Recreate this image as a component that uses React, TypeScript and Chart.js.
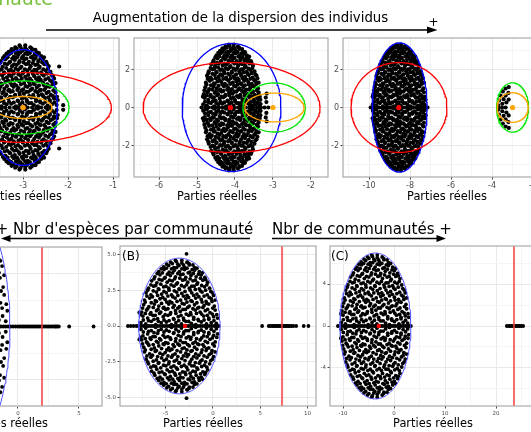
import React, { useEffect, useRef } from "react";
import { Chart, registerables } from "chart.js";

Chart.register(...registerables);

type Pt = [number, number];
const FONT = "DejaVu Sans";

// Normalised eigenvalue cloud (upper half; the spectrum is symmetric about the real axis)
const cloudA: Pt[] = [
  [-0.97,0.05],[-0.85,0.03],[-0.71,0.07],[-0.6,0.02],[-0.46,0.05],[-0.33,0.06],[-0.2,0.02],[-0.09,0.05],[0.05,0.03],[0.16,0.07],[0.3,0.04],[0.41,0.02],[0.55,0.06],[0.68,0.03],[0.8,0.05],[0.93,0.04],
  [-0.92,0.15],[-0.8,0.12],[-0.67,0.16],[-0.55,0.11],[-0.41,0.14],[-0.29,0.16],[-0.15,0.11],[-0.03,0.14],[0.1,0.12],[0.23,0.16],[0.36,0.13],[0.47,0.1],[0.61,0.15],[0.74,0.12],[0.86,0.14],[0.96,0.12],
  [-0.95,0.21],[-0.83,0.24],[-0.72,0.2],[-0.58,0.23],[-0.47,0.21],[-0.35,0.25],[-0.22,0.2],[-0.1,0.23],[0.02,0.22],[0.15,0.25],[0.28,0.2],[0.4,0.24],[0.52,0.21],[0.65,0.23],[0.77,0.2],[0.9,0.24],
  [-0.9,0.32],[-0.77,0.29],[-0.63,0.33],[-0.52,0.3],[-0.39,0.28],[-0.27,0.33],[-0.13,0.31],[0,0.29],[0.12,0.33],[0.25,0.3],[0.38,0.32],[0.49,0.28],[0.62,0.31],[0.74,0.33],[0.88,0.3],
  [-0.88,0.39],[-0.75,0.42],[-0.61,0.38],[-0.49,0.41],[-0.36,0.4],[-0.24,0.37],[-0.11,0.42],[0.03,0.39],[0.16,0.41],[0.29,0.38],[0.41,0.42],[0.55,0.4],[0.67,0.37],[0.8,0.41],[0.9,0.39],
  [-0.84,0.5],[-0.72,0.47],[-0.58,0.51],[-0.45,0.48],[-0.33,0.5],[-0.2,0.47],[-0.07,0.51],[0.06,0.49],[0.19,0.46],[0.31,0.5],[0.44,0.48],[0.57,0.51],[0.7,0.47],[0.83,0.5],
  [-0.78,0.57],[-0.65,0.6],[-0.53,0.56],[-0.4,0.59],[-0.27,0.57],[-0.14,0.6],[-0.01,0.56],[0.12,0.59],[0.25,0.57],[0.37,0.6],[0.5,0.56],[0.63,0.59],[0.76,0.57],
  [-0.7,0.68],[-0.57,0.65],[-0.44,0.69],[-0.31,0.66],[-0.18,0.68],[-0.05,0.65],[0.08,0.69],[0.21,0.66],[0.34,0.68],[0.46,0.65],[0.59,0.69],[0.71,0.66],
  [-0.62,0.74],[-0.49,0.77],[-0.36,0.73],[-0.23,0.76],[-0.1,0.74],[0.03,0.77],[0.16,0.73],[0.29,0.76],[0.42,0.74],[0.55,0.77],[0.64,0.73],
  [-0.52,0.82],[-0.39,0.85],[-0.26,0.81],[-0.13,0.84],[0,0.82],[0.13,0.85],[0.26,0.81],[0.38,0.84],[0.5,0.82],
  [-0.4,0.89],[-0.27,0.91],[-0.14,0.88],[-0.01,0.91],[0.12,0.89],[0.25,0.92],[0.38,0.88],
  [-0.22,0.96],[-0.08,0.97],[0.06,0.95],[0.2,0.96],
];

const cloudB: Pt[] = [
  [-0.91,0.09],[-0.78,0.08],[-0.64,0.1],[-0.53,0.07],[-0.39,0.09],[-0.26,0.08],[-0.14,0.1],[-0.02,0.08],[0.11,0.09],[0.23,0.07],[0.36,0.1],[0.48,0.08],[0.62,0.09],[0.74,0.1],[0.87,0.08],
  [-0.98,0.17],[-0.86,0.19],[-0.74,0.18],[-0.61,0.16],[-0.5,0.19],[-0.36,0.17],[-0.23,0.18],[-0.09,0.19],[0.04,0.16],[0.17,0.18],[0.29,0.17],[0.43,0.19],[0.56,0.18],[0.7,0.16],[0.83,0.18],[0.94,0.17],
  [-0.93,0.27],[-0.8,0.26],[-0.66,0.28],[-0.54,0.25],[-0.41,0.27],[-0.29,0.26],[-0.16,0.28],[-0.04,0.27],[0.09,0.25],[0.21,0.28],[0.34,0.26],[0.46,0.27],[0.59,0.28],[0.71,0.25],[0.84,0.27],
  [-0.86,0.36],[-0.71,0.35],[-0.58,0.37],[-0.45,0.34],[-0.32,0.36],[-0.19,0.35],[-0.06,0.37],[0.07,0.34],[0.19,0.36],[0.32,0.37],[0.44,0.35],[0.57,0.36],[0.69,0.34],[0.82,0.37],
  [-0.82,0.45],[-0.68,0.44],[-0.55,0.46],[-0.42,0.43],[-0.29,0.45],[-0.17,0.44],[-0.04,0.46],[0.1,0.45],[0.23,0.43],[0.36,0.46],[0.49,0.44],[0.62,0.45],[0.75,0.43],[0.86,0.46],
  [-0.8,0.54],[-0.66,0.53],[-0.52,0.55],[-0.39,0.52],[-0.26,0.54],[-0.13,0.53],[0,0.55],[0.14,0.52],[0.27,0.54],[0.4,0.55],[0.53,0.53],[0.66,0.54],[0.79,0.52],
  [-0.72,0.62],[-0.6,0.61],[-0.47,0.63],[-0.34,0.6],[-0.21,0.62],[-0.08,0.63],[0.05,0.61],[0.18,0.62],[0.31,0.6],[0.44,0.63],[0.56,0.61],[0.69,0.62],
  [-0.64,0.71],[-0.51,0.7],[-0.38,0.72],[-0.25,0.69],[-0.12,0.71],[0.01,0.72],[0.14,0.7],[0.27,0.71],[0.4,0.69],[0.53,0.72],[0.66,0.7],
  [-0.56,0.79],[-0.43,0.8],[-0.3,0.78],[-0.17,0.8],[-0.04,0.79],[0.09,0.78],[0.22,0.8],[0.35,0.79],[0.48,0.78],[0.58,0.8],
  [-0.46,0.86],[-0.33,0.87],[-0.2,0.86],[-0.07,0.88],[0.06,0.86],[0.19,0.87],[0.32,0.85],[0.44,0.87],
  [-0.32,0.93],[-0.18,0.94],[-0.04,0.93],[0.1,0.92],[0.24,0.94],[0.34,0.92],
  [-0.1,0.99],[0.06,0.99],
];

// small community (arc opening to the right), normalised
const smallArc: Pt[] = [
  [-0.17,0.98],[-0.42,0.91],[-0.64,0.77],[-0.82,0.57],[-0.94,0.34],[-1.0,0.1],
  [-0.2,0.7],[-0.42,0.57],[-0.58,0.4],[-0.68,0.18],
  [-0.18,0.38],[-0.36,0.24],
  [-1.0,0],[-0.7,0],[-0.42,0],
];

// ---------- Panel 1 (top, cut at left) ----------
const p1Cloud = [-3.0, 0.8, 3.3];          // centre, half-width, half-height
const p1Real = [-3.5, -3.4, -3.3, -3.2, -3.1, -3.0, -2.9, -2.8, -2.7, -2.6, -2.5, -2.4];
const p1Extra: Pt[] = [[-2.2, 2.16], [-2.11, 0.12]];
const p1Blue = [-3.0, 0.76, 3.05];          // cx, rx, ry
const p1Red = [-3.0, 1.96, 1.84];
const p1Green = [-3.0, 1.02, 1.4];
const p1Orange = [-3.0, 0.64, 0.58];
const p1Dots = [-3.0, -3.0];                // red centre, orange centre

// ---------- Panel 2 ----------
const p2Cloud = [-4.08, 0.78, 3.35];
const p2Small = [-3.02, 0.85, 0.75];        // right anchor, x scale, y scale
const p2Real = [-4.88, -4.78, -4.7, -4.6, -4.5, -4.42, -4.32, -4.22, -4.12, -4.02, -3.92, -3.82, -3.72, -3.62, -3.52, -3.42, -3.32, -3.22, -3.12];
const p2Blue = [-4.09, 1.3, 3.37];
const p2Red = [-4.09, 2.33, 2.37];
const p2Green = [-2.97, 0.82, 1.29];
const p2Orange = [-2.96, 0.78, 0.76];
const p2Dots = [-4.12, -3.0];

// ---------- Panel 3 ----------
const p3Cloud = [-8.52, 1.33, 3.35];
const p3Small = [-3.08, 0.62, 1.1];
const p3Real = [-9.92, -9.8, -9.65, -9.5, -9.35, -9.2, -9.05, -8.9, -8.75, -8.6, -8.45, -8.3, -8.15, -8.0, -7.85, -7.7, -7.55, -7.4, -7.25, -7.15];
const p3Blue = [-8.51, 1.34, 3.4];
const p3Red = [-8.54, 2.34, 2.37];
const p3Green = [-3.0, 0.78, 1.3];
const p3Orange = [-3.0, 0.76, 0.78];
const p3Dots = [-8.55, -3.0];

// ---------- Panel 4 (bottom, cut at left) ----------
const p4Cloud = [-5.0, 4.3, 12.4];
const p4Real = [-8.5, -7.5, -6.5, -5.5, -4.5, -3.5, -2.5, -2.0, -1.7, -1.4, -1.2, -1.0, -0.8, -0.6, -0.4, -0.2, 0, 0.15, 0.3, 0.45, 0.6, 0.75, 0.9, 1.05, 1.2, 1.35, 1.5, 1.65, 1.8, 1.95, 2.1, 2.25, 2.4, 2.55, 2.7, 2.85, 3.0, 3.1, 3.2, 3.35, 4.2, 6.2];
const p4Blue = [-5.0, 4.34, 12.8];
const p4Line = 1.97;

// ---------- Panel 5 (B) ----------
const p5Cloud = [-3.55, 4.2, 4.65];
const p5Extra: Pt[] = [[-2.8, 5.05], [-2.75, 4.45], [-7.8, 0.95]];
const p5Real = [-9.0, -8.7, -8.4, -8.1, -7.85, -7.6, -7.35, -7.1, -6.85, -6.6, -6.35, -6.1, -5.85, -5.6, -5.35, -5.1, -4.85, -4.6, -4.35, -4.1, -3.85, -3.6, -3.35, -3.1, -2.85, -2.6, -2.35, -2.1, -1.85, -1.6, -1.35, -1.1, -0.85, -0.6, -0.35, -0.1, 0.15, 0.4, 0.6];
const p5Right = [5.2, 5.9, 6.1, 6.3, 6.45, 6.6, 6.75, 6.9, 7.05, 7.2, 7.35, 7.5, 7.65, 7.8, 7.95, 8.1, 8.3, 8.5, 8.8, 9.6, 10.1];
const p5Blue = [-3.55, 4.3, 4.75];
const p5Dot = -2.96;
const p5Line = 7.3;

// ---------- Panel 6 (C) ----------
const p6Cloud = [-3.7, 6.85, 6.85];
const p6Real = [-11, -10.6, -10.2, -9.8, -9.4, -9.0, -8.6, -8.2, -7.8, -7.4, -7.0, -6.6, -6.2, -5.8, -5.4, -5.0, -4.6, -4.2, -3.8, -3.4, -3.0, -2.6, -2.2, -1.8, -1.4, -1.0, -0.6, -0.2, 0.2, 0.6, 1.0, 1.4, 1.8, 2.2, 2.6, 3.0, 3.3];
const p6Right = [22.1, 22.5, 22.8, 23.1, 23.4, 23.7, 24.0, 24.3, 24.6, 24.9, 25.3];
const p6Blue = [-3.65, 6.95, 6.95];
const p6Dot = -3.0;
const p6Line = 23.5;

// tick values
const topYMajor = [-2, 0, 2];
const topYMinor = [-3, -1, 1, 3];
const p1XMajor = [-5, -4, -3, -2, -1];
const p1XMinor = [-4.5, -3.5, -2.5, -1.5];
const p2XMajor = [-6, -5, -4, -3, -2];
const p2XMinor = [-6.5, -5.5, -4.5, -3.5, -2.5];
const p3XMajor = [-10, -8, -6, -4, -2];
const p3XMinor = [-11, -9, -7, -5, -3];
const p4XMajor = [-5, 0, 5];
const p4XMinor = [-7.5, -2.5, 2.5];
const p4YMajor = [-5, 0, 5];
const p4YMinor = [-7.5, -2.5, 2.5, 7.5];
const p5XMajor = [-5, 0, 5, 10];
const p5XMinor = [-7.5, -2.5, 2.5, 7.5];
const p5YMajor = [-5, -2.5, 0, 2.5, 5];
const p5YMinor = [-3.75, -1.25, 1.25, 3.75];
const p6XMajor = [-10, 0, 10, 20];
const p6XMinor = [-5, 5, 15, 25];
const p6YMajor = [-4, 0, 4];
const p6YMinor = [-6, -2, 2, 6];

// ---------- helpers ----------
const BLUE = "#0000ff", RED = "#ff0000", GREEN = "#00e600", ORANGE = "#ffa500";
const BLUE2 = "#5050ff", RED2 = "#ff3c3c";

type XY = { x: number; y: number };
function cloud(templates: Pt[][], c: number[]): XY[] {
  const [cx, ax, ay] = c;
  const out: XY[] = [];
  for (const t of templates) for (const [u, v] of t) {
    out.push({ x: cx + u * ax, y: v * ay });
    out.push({ x: cx + u * ax, y: -v * ay });
  }
  return out;
}
function arcCluster(c: number[]): XY[] {
  const [ax, sx, sy] = c;
  const out: XY[] = [];
  for (const [u, v] of smallArc) {
    out.push({ x: ax + u * sx, y: v * sy });
    if (v > 0) out.push({ x: ax + u * sx, y: -v * sy });
  }
  return out;
}
function onAxis(xs: number[]): XY[] { return xs.map((x) => ({ x, y: 0 })); }
function mirrored(ps: Pt[]): XY[] {
  const out: XY[] = [];
  for (const [x, y] of ps) { out.push({ x, y }); out.push({ x, y: -y }); }
  return out;
}
function ellipse(e: number[]): XY[] {
  const [cx, rx, ry] = e;
  const out: XY[] = [];
  for (let i = 0; i <= 160; i++) {
    const t = (i / 160) * Math.PI * 2;
    out.push({ x: cx + rx * Math.cos(t), y: ry * Math.sin(t) });
  }
  return out;
}
function vline(x: number): XY[] { return [{ x, y: -100 }, { x, y: 100 }]; }

const dots = (data: XY[], color: string, r: number) => ({
  data, showLine: false, pointRadius: r, pointHoverRadius: r,
  pointBackgroundColor: color, pointBorderColor: color, pointBorderWidth: 0, borderWidth: 0,
});
const curve = (data: XY[], color: string, w: number) => ({
  data, showLine: true, pointRadius: 0, pointHoverRadius: 0,
  borderColor: color, borderWidth: w, backgroundColor: "transparent", fill: false, tension: 0,
});

interface PanelCfg {
  box: number[]; // left, top, width, height of plot area
  x: number[]; y: number[];
  xMajor: number[]; xMinor: number[]; yMajor: number[]; yMinor: number[];
  xFmt: (v: number) => string; yFmt: (v: number) => string;
  font: number;
  datasets: any[];
}

const PAD_L = 30, PAD_R = 4, PAD_T = 4, PAD_B = 22;
const intFmt = (v: number) => String(v);
const decFmt = (v: number) => v.toFixed(1);
const isIn = (v: number, arr: number[]) => arr.some((m) => Math.abs(m - v) < 1e-6);

const borderPlugin = {
  id: "panelBorder",
  afterDatasetsDraw(chart: any) {
    const { ctx, chartArea: a } = chart;
    ctx.save();
    ctx.strokeStyle = "#ababab";
    ctx.lineWidth = 1.2;
    ctx.strokeRect(a.left, a.top, a.right - a.left, a.bottom - a.top);
    ctx.restore();
  },
};

function axisOpts(min: number, max: number, major: number[], minor: number[], fmt: (v: number) => string, font: number, horizontal: boolean) {
  const all = [...major, ...minor].filter((v) => v >= min && v <= max).sort((a, b) => a - b);
  return {
    type: "linear",
    min, max, bounds: "data",
    afterBuildTicks: (axis: any) => { axis.ticks = all.map((v) => ({ value: v })); },
    afterFit: (axis: any) => {
      if (horizontal) { axis.height = PAD_B; axis.paddingLeft = 0; axis.paddingRight = 0; }
      else { axis.width = PAD_L; axis.paddingTop = 0; axis.paddingBottom = 0; }
    },
    ticks: {
      autoSkip: false, maxRotation: 0, minRotation: 0, padding: 1.5,
      color: "#4d4d4d", font: { size: font, family: FONT },
      callback: (v: any) => (isIn(Number(v), major) ? fmt(Number(v)) : ""),
    },
    grid: {
      color: (c: any) => (c.tick && isIn(c.tick.value, major) ? "#e9e9e9" : "#f4f4f4"),
      lineWidth: 1,
      drawTicks: true, tickLength: 2.5, tickWidth: 1,
      tickColor: (c: any) => (c.tick && isIn(c.tick.value, major) ? "#444444" : "rgba(0,0,0,0)"),
    },
    border: { display: false },
  };
}

function Panel({ cfg }: { cfg: PanelCfg }) {
  const ref = useRef<HTMLCanvasElement>(null);
  const [l, t, w, h] = cfg.box;
  const W = w + PAD_L + PAD_R, H = h + PAD_T + PAD_B;
  useEffect(() => {
    const chart = new Chart(ref.current as HTMLCanvasElement, {
      type: "scatter",
      data: { datasets: cfg.datasets },
      options: {
        animation: false, responsive: false, events: [],
        layout: { padding: { top: PAD_T, right: PAD_R, left: 0, bottom: 0 } },
        plugins: { legend: { display: false }, tooltip: { enabled: false } },
        scales: {
          x: axisOpts(cfg.x[0], cfg.x[1], cfg.xMajor, cfg.xMinor, cfg.xFmt, cfg.font, true),
          y: axisOpts(cfg.y[0], cfg.y[1], cfg.yMajor, cfg.yMinor, cfg.yFmt, cfg.font, false),
        },
      } as any,
      plugins: [borderPlugin],
    });
    return () => chart.destroy();
  }, []);
  return (
    <canvas ref={ref} width={W} height={H}
      style={{ position: "absolute", left: l - PAD_L, top: t - PAD_T, width: W, height: H }} />
  );
}

const TR = 2.1, BR = 1.9;

const panels: PanelCfg[] = [
  {
    box: [-75, 38, 194, 139], x: [-5.18, -0.87], y: [-3.66, 3.66],
    xMajor: p1XMajor, xMinor: p1XMinor, yMajor: topYMajor, yMinor: topYMinor,
    xFmt: intFmt, yFmt: intFmt, font: 8,
    datasets: [
      dots([{ x: p1Dots[1], y: 0 }], ORANGE, 2.6),
      dots([{ x: p1Dots[0], y: 0 }], RED, 2.6),
      curve(ellipse(p1Orange), ORANGE, 1.3),
      curve(ellipse(p1Green), GREEN, 1.3),
      curve(ellipse(p1Red), RED, 1.3),
      curve(ellipse(p1Blue), BLUE, 1.3),
      dots(mirrored(p1Extra), "#000", TR),
      dots(onAxis(p1Real), "#000", TR),
      dots(cloud([cloudA, cloudB], p1Cloud), "#000", TR),
    ],
  },
  {
    box: [134, 38, 194, 139], x: [-6.66, -1.55], y: [-3.66, 3.66],
    xMajor: p2XMajor, xMinor: p2XMinor, yMajor: topYMajor, yMinor: topYMinor,
    xFmt: intFmt, yFmt: intFmt, font: 8,
    datasets: [
      dots([{ x: p2Dots[1], y: 0 }], ORANGE, 2.6),
      dots([{ x: p2Dots[0], y: 0 }], RED, 2.6),
      curve(ellipse(p2Orange), ORANGE, 1.3),
      curve(ellipse(p2Green), GREEN, 1.3),
      curve(ellipse(p2Red), RED, 1.3),
      curve(ellipse(p2Blue), BLUE, 1.3),
      dots(arcCluster(p2Small), "#000", TR),
      dots(onAxis(p2Real), "#000", TR),
      dots(cloud([cloudA, cloudB], p2Cloud), "#000", TR),
    ],
  },
  {
    box: [343, 38, 194, 139], x: [-11.27, -1.81], y: [-3.66, 3.66],
    xMajor: p3XMajor, xMinor: p3XMinor, yMajor: topYMajor, yMinor: topYMinor,
    xFmt: intFmt, yFmt: intFmt, font: 8,
    datasets: [
      dots([{ x: p3Dots[1], y: 0 }], ORANGE, 2.6),
      dots([{ x: p3Dots[0], y: 0 }], RED, 2.6),
      curve(ellipse(p3Orange), ORANGE, 1.3),
      curve(ellipse(p3Green), GREEN, 1.3),
      curve(ellipse(p3Red), RED, 1.3),
      curve(ellipse(p3Blue), BLUE, 1.3),
      dots(arcCluster(p3Small), "#000", TR),
      dots(onAxis(p3Real), "#000", TR),
      dots(cloud([cloudA, cloudB], p3Cloud), "#000", TR),
    ],
  },
  {
    box: [-94, 247, 196, 159], x: [-9.18, 6.89], y: [-7.5, 7.5],
    xMajor: p4XMajor, xMinor: p4XMinor, yMajor: p4YMajor, yMinor: p4YMinor,
    xFmt: intFmt, yFmt: decFmt, font: 5.5,
    datasets: [
      curve(vline(p4Line), RED2, 1.5),
      curve(ellipse(p4Blue), BLUE2, 1),
      dots(onAxis(p4Real), "#000", BR),
      dots(cloud([cloudA, cloudB], p4Cloud), "#000", BR),
    ],
  },
  {
    box: [120, 246, 196, 160], x: [-9.84, 10.9], y: [-5.6, 5.6],
    xMajor: p5XMajor, xMinor: p5XMinor, yMajor: p5YMajor, yMinor: p5YMinor,
    xFmt: intFmt, yFmt: decFmt, font: 5.5,
    datasets: [
      dots([{ x: p5Dot, y: 0 }], RED, 2.2),
      curve(vline(p5Line), RED2, 1.5),
      curve(ellipse(p5Blue), BLUE2, 1),
      dots(mirrored(p5Extra), "#000", BR),
      dots(onAxis(p5Right), "#000", BR),
      dots(onAxis(p5Real), "#000", BR),
      dots(cloud([cloudA, cloudB], p5Cloud), "#000", BR),
    ],
  },
  {
    box: [330, 246, 210, 160], x: [-12.55, 28.6], y: [-7.62, 7.62],
    xMajor: p6XMajor, xMinor: p6XMinor, yMajor: p6YMajor, yMinor: p6YMinor,
    xFmt: intFmt, yFmt: intFmt, font: 5.5,
    datasets: [
      dots([{ x: p6Dot, y: 0 }], RED, 2.2),
      curve(vline(p6Line), RED2, 1.5),
      curve(ellipse(p6Blue), BLUE2, 1),
      dots(onAxis(p6Right), "#000", BR),
      dots(onAxis(p6Real), "#000", BR),
      dots(cloud([cloudA, cloudB], p6Cloud), "#000", BR),
    ],
  },
];

const titleX = [22, 217, 447, 8, 203, 433];

export default function App() {
  return (
    <div style={{ position: "absolute", left: 0, top: 0, width: 531, height: 432, overflow: "hidden", background: "#fff" }}>
      {panels.map((p, i) => <Panel key={i} cfg={p} />)}
      <svg width={531} height={432} style={{ position: "absolute", left: 0, top: 0, pointerEvents: "none" }} fontFamily={FONT}>
        <text x={53} y={4.5} textAnchor="end" fontSize={19} fill="#78c23c">communauté</text>
        <text x={240.5} y={22.4} textAnchor="middle" fontSize={13.3} fill="#000">Augmentation de la dispersion des individus</text>
        <line x1={46} y1={30} x2={429} y2={30} stroke="#000" strokeWidth={1.4} />
        <polygon points="437.5,30 427,26.5 427,33.5" fill="#000" />
        <text x={433.5} y={26.4} textAnchor="middle" fontSize={12} fill="#000">+</text>

        <text x={-4.3} y={234} fontSize={15} fill="#000">+ Nbr d'espèces par communauté</text>
        <line x1={8} y1={238.5} x2={250} y2={238.5} stroke="#000" strokeWidth={1.4} />
        <polygon points="1,238.5 10.5,235 10.5,242" fill="#000" />
        <text x={272} y={234} fontSize={15} fill="#000">Nbr de communautés +</text>
        <line x1={272} y1={238.5} x2={438} y2={238.5} stroke="#000" strokeWidth={1.4} />
        <polygon points="446,238.5 436.5,235 436.5,242" fill="#000" />

        <text x={122} y={259.5} fontSize={12} fill="#000">(B)</text>
        <text x={331} y={259.5} fontSize={12} fill="#000">(C)</text>

        {titleX.map((x, i) => (
          <text key={i} x={x} y={i < 3 ? 199.5 : 427} textAnchor="middle" fontSize={11.4} fill="#000">Parties réelles</text>
        ))}
      </svg>
    </div>
  );
}
